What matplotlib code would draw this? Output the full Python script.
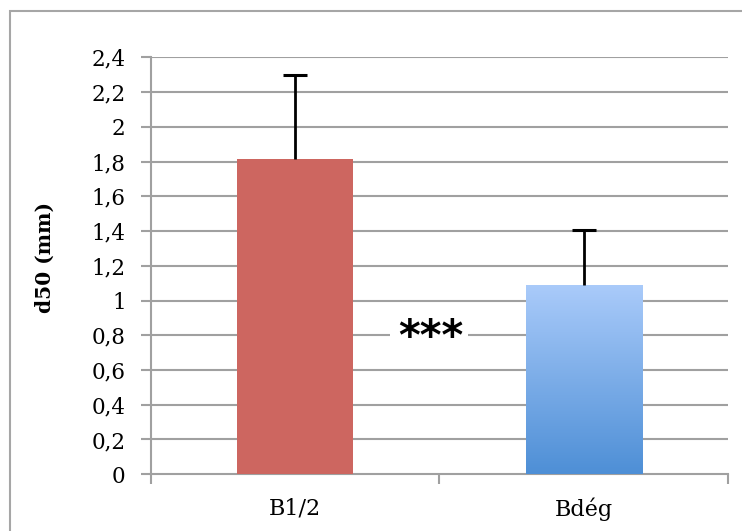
import matplotlib
matplotlib.use("Agg")
import matplotlib.pyplot as plt
import numpy as np
from matplotlib.patches import Rectangle
from matplotlib.colors import LinearSegmentedColormap

categories = ["B1/2", "Bdég"]
means = [1.815, 1.09]
err_upper = [0.485, 0.315]
y_ticks = [0, 0.2, 0.4, 0.6, 0.8, 1, 1.2, 1.4, 1.6, 1.8, 2, 2.2, 2.4]
signif_text = "***"
signif_y = 0.81

plt.rcParams["font.family"] = ["DejaVu Serif"]

fig = plt.figure(figsize=(7.42, 5.31), dpi=100)
ax = fig.add_axes([0.203, 0.107, 0.778, 0.785])

# cadre gris autour du graphique
fig.patches.append(Rectangle((9.5 / 742, -0.1), 1.2, 1 - 11 / 531 + 0.1,
                             transform=fig.transFigure, fill=False,
                             edgecolor="#a6a6a6", linewidth=1.5, zorder=0))

x = np.arange(len(categories))
width = 0.402
grid_c = "#a0a0a0"

for yt in y_ticks[1:]:
    ax.axhline(yt, color=grid_c, linewidth=1.5, zorder=1)

# barre rouge
ax.bar(x[0], means[0], width, color="#cd6660", zorder=3)

# barre bleue en degrade
blue = LinearSegmentedColormap.from_list("bl", ["#4e8fd6", "#aacbfa"])
grad = np.linspace(0, 1, 256).reshape(-1, 1)
bar_b = ax.bar(x[1], means[1], width, color="none", zorder=3)[0]
im = ax.imshow(grad, cmap=blue, origin="lower", aspect="auto", zorder=3,
               extent=[x[1] - width / 2, x[1] + width / 2, 0, means[1]])
im.set_clip_path(bar_b)

# barres d'erreur (haut seulement)
tops = np.array(means) + np.array(err_upper)
ax.vlines(x, means, tops, color="black", linewidth=2, zorder=4)
ax.plot(x, tops, ls="none", marker="_", markersize=17, mew=2.2,
        color="black", zorder=4)

ax.text(0.47, signif_y, signif_text, ha="center", va="center_baseline",
        fontsize=30, fontweight="bold", family="DejaVu Sans", zorder=5)
ax.add_patch(Rectangle((0.33, 0.78), 0.27, 0.05, facecolor="white",
                       edgecolor="none", zorder=2))

ax.set_xlim(-0.5, 1.5)
ax.set_ylim(0, 2.4)
ax.set_yticks(y_ticks)
ax.set_yticklabels([f"{v:g}".replace(".", ",") for v in y_ticks], fontsize=15.5)
ax.set_xticks([-0.5, 0.5, 1.5])
ax.set_xticklabels([])
ax.set_xticks(x, minor=True)
ax.set_xticklabels(categories, minor=True, fontsize=16)
ax.tick_params(axis="x", which="minor", length=0, pad=17)
ax.tick_params(axis="x", which="major", length=7, width=1.5, color=grid_c)
ax.tick_params(axis="y", length=7, width=1.5, color=grid_c, pad=11)

for side in ["top", "right"]:
    ax.spines[side].set_visible(False)
for side in ["left", "bottom"]:
    ax.spines[side].set_color(grid_c)
    ax.spines[side].set_linewidth(1.5)

ax.set_ylabel("d50 (mm)", fontsize=14.5, fontweight="bold")
ax.yaxis.set_label_coords(-0.166, 0.52)

fig.savefig("out.png", dpi=100)
